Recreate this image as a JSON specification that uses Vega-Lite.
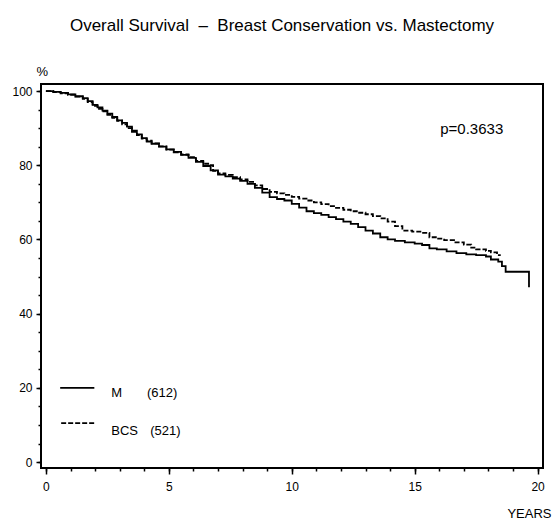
{
  "$schema": "https://vega.github.io/schema/vega-lite/v6.json",
  "width": 502,
  "height": 384,
  "autosize": {"type": "none"},
  "padding": {"left": 41, "top": 84, "right": 11, "bottom": 55},
  "background": "white",
  "config": {
    "font": "Liberation Sans",
    "view": {"stroke": "black", "strokeWidth": 2},
    "axis": {"labelFont": "Liberation Sans", "labelColor": "black", "tickColor": "black", "domain": false, "grid": false, "titleFont": "Liberation Sans", "titleFontWeight": "normal", "titleColor": "black", "tickWidth": 1.5}
  },
  "title": {"text": "Overall Survival\u00a0\u00a0–\u00a0\u00a0Breast Conservation vs. Mastectomy", "fontSize": 17, "fontWeight": "normal", "font": "Liberation Sans", "color": "black", "anchor": "middle", "frame": "group", "offset": 30, "dx": -10},
  "datasets": {
    "curves": [
      {"group": "M", "years": 0, "pct": 100}, {"group": "M", "years": 0.3, "pct": 99.8}, {"group": "M", "years": 0.6, "pct": 99.5}, {"group": "M", "years": 0.9, "pct": 99.1}, {"group": "M", "years": 1.2, "pct": 98.6}, {"group": "M", "years": 1.5, "pct": 98.1}, {"group": "M", "years": 1.7, "pct": 97.3}, {"group": "M", "years": 1.9, "pct": 96.3}, {"group": "M", "years": 2.1, "pct": 95.6}, {"group": "M", "years": 2.3, "pct": 94.7}, {"group": "M", "years": 2.5, "pct": 93.9}, {"group": "M", "years": 2.7, "pct": 93.0}, {"group": "M", "years": 2.9, "pct": 92.1}, {"group": "M", "years": 3.1, "pct": 91.4}, {"group": "M", "years": 3.3, "pct": 90.4}, {"group": "M", "years": 3.5, "pct": 89.3}, {"group": "M", "years": 3.7, "pct": 88.3}, {"group": "M", "years": 3.9, "pct": 87.3}, {"group": "M", "years": 4.1, "pct": 86.4}, {"group": "M", "years": 4.3, "pct": 85.8}, {"group": "M", "years": 4.6, "pct": 85.0}, {"group": "M", "years": 4.9, "pct": 84.3}, {"group": "M", "years": 5.2, "pct": 83.6}, {"group": "M", "years": 5.5, "pct": 82.8}, {"group": "M", "years": 5.8, "pct": 82.0}, {"group": "M", "years": 6.1, "pct": 80.9}, {"group": "M", "years": 6.4, "pct": 79.8}, {"group": "M", "years": 6.7, "pct": 78.6}, {"group": "M", "years": 7.0, "pct": 77.5}, {"group": "M", "years": 7.3, "pct": 77.0}, {"group": "M", "years": 7.6, "pct": 76.4}, {"group": "M", "years": 7.9, "pct": 75.8}, {"group": "M", "years": 8.2, "pct": 75.0}, {"group": "M", "years": 8.5, "pct": 73.9}, {"group": "M", "years": 8.8, "pct": 72.6}, {"group": "M", "years": 9.1, "pct": 71.4}, {"group": "M", "years": 9.4, "pct": 70.9}, {"group": "M", "years": 9.7, "pct": 70.5}, {"group": "M", "years": 10.0, "pct": 69.6}, {"group": "M", "years": 10.3, "pct": 68.6}, {"group": "M", "years": 10.6, "pct": 67.6}, {"group": "M", "years": 10.9, "pct": 67.1}, {"group": "M", "years": 11.2, "pct": 66.6}, {"group": "M", "years": 11.5, "pct": 66.0}, {"group": "M", "years": 11.8, "pct": 65.5}, {"group": "M", "years": 12.1, "pct": 64.8}, {"group": "M", "years": 12.4, "pct": 64.2}, {"group": "M", "years": 12.7, "pct": 63.3}, {"group": "M", "years": 13.0, "pct": 62.4}, {"group": "M", "years": 13.3, "pct": 61.6}, {"group": "M", "years": 13.6, "pct": 60.6}, {"group": "M", "years": 13.9, "pct": 60.0}, {"group": "M", "years": 14.2, "pct": 59.6}, {"group": "M", "years": 14.6, "pct": 59.2}, {"group": "M", "years": 15.0, "pct": 58.9}, {"group": "M", "years": 15.3, "pct": 58.5}, {"group": "M", "years": 15.6, "pct": 57.6}, {"group": "M", "years": 15.9, "pct": 57.3}, {"group": "M", "years": 16.3, "pct": 56.8}, {"group": "M", "years": 16.7, "pct": 56.3}, {"group": "M", "years": 17.1, "pct": 56.0}, {"group": "M", "years": 17.5, "pct": 55.8}, {"group": "M", "years": 17.9, "pct": 55.4}, {"group": "M", "years": 18.1, "pct": 54.6}, {"group": "M", "years": 18.4, "pct": 54.0}, {"group": "M", "years": 18.55, "pct": 52.8}, {"group": "M", "years": 18.7, "pct": 51.3}, {"group": "M", "years": 19.64, "pct": 51.3}, {"group": "M", "years": 19.65, "pct": 47.1},
      {"group": "BCS", "years": 0, "pct": 100}, {"group": "BCS", "years": 0.3, "pct": 99.7}, {"group": "BCS", "years": 0.6, "pct": 99.4}, {"group": "BCS", "years": 0.9, "pct": 99.0}, {"group": "BCS", "years": 1.2, "pct": 98.5}, {"group": "BCS", "years": 1.5, "pct": 97.9}, {"group": "BCS", "years": 1.7, "pct": 97.0}, {"group": "BCS", "years": 1.9, "pct": 96.0}, {"group": "BCS", "years": 2.1, "pct": 95.2}, {"group": "BCS", "years": 2.3, "pct": 94.5}, {"group": "BCS", "years": 2.5, "pct": 93.6}, {"group": "BCS", "years": 2.7, "pct": 92.8}, {"group": "BCS", "years": 2.9, "pct": 92.0}, {"group": "BCS", "years": 3.1, "pct": 91.0}, {"group": "BCS", "years": 3.3, "pct": 90.0}, {"group": "BCS", "years": 3.5, "pct": 89.0}, {"group": "BCS", "years": 3.7, "pct": 88.1}, {"group": "BCS", "years": 3.9, "pct": 87.2}, {"group": "BCS", "years": 4.1, "pct": 86.6}, {"group": "BCS", "years": 4.3, "pct": 85.9}, {"group": "BCS", "years": 4.6, "pct": 85.1}, {"group": "BCS", "years": 4.9, "pct": 84.2}, {"group": "BCS", "years": 5.2, "pct": 83.5}, {"group": "BCS", "years": 5.5, "pct": 82.9}, {"group": "BCS", "years": 5.8, "pct": 82.2}, {"group": "BCS", "years": 6.1, "pct": 81.2}, {"group": "BCS", "years": 6.4, "pct": 80.4}, {"group": "BCS", "years": 6.6, "pct": 80.0}, {"group": "BCS", "years": 6.8, "pct": 78.5}, {"group": "BCS", "years": 7.0, "pct": 77.8}, {"group": "BCS", "years": 7.3, "pct": 77.4}, {"group": "BCS", "years": 7.6, "pct": 76.8}, {"group": "BCS", "years": 7.9, "pct": 76.2}, {"group": "BCS", "years": 8.2, "pct": 75.5}, {"group": "BCS", "years": 8.5, "pct": 74.6}, {"group": "BCS", "years": 8.8, "pct": 73.6}, {"group": "BCS", "years": 9.1, "pct": 72.8}, {"group": "BCS", "years": 9.4, "pct": 72.4}, {"group": "BCS", "years": 9.7, "pct": 72.0}, {"group": "BCS", "years": 10.0, "pct": 71.5}, {"group": "BCS", "years": 10.3, "pct": 71.0}, {"group": "BCS", "years": 10.6, "pct": 70.5}, {"group": "BCS", "years": 10.9, "pct": 70.0}, {"group": "BCS", "years": 11.2, "pct": 69.5}, {"group": "BCS", "years": 11.5, "pct": 69.0}, {"group": "BCS", "years": 11.8, "pct": 68.5}, {"group": "BCS", "years": 12.1, "pct": 68.0}, {"group": "BCS", "years": 12.4, "pct": 67.6}, {"group": "BCS", "years": 12.7, "pct": 67.2}, {"group": "BCS", "years": 13.0, "pct": 66.8}, {"group": "BCS", "years": 13.3, "pct": 66.3}, {"group": "BCS", "years": 13.6, "pct": 65.7}, {"group": "BCS", "years": 13.9, "pct": 64.8}, {"group": "BCS", "years": 14.2, "pct": 63.6}, {"group": "BCS", "years": 14.5, "pct": 62.4}, {"group": "BCS", "years": 14.9, "pct": 62.1}, {"group": "BCS", "years": 15.3, "pct": 61.8}, {"group": "BCS", "years": 15.6, "pct": 60.6}, {"group": "BCS", "years": 15.9, "pct": 60.2}, {"group": "BCS", "years": 16.2, "pct": 59.8}, {"group": "BCS", "years": 16.6, "pct": 59.2}, {"group": "BCS", "years": 17.0, "pct": 58.6}, {"group": "BCS", "years": 17.3, "pct": 57.8}, {"group": "BCS", "years": 17.5, "pct": 57.3}, {"group": "BCS", "years": 17.9, "pct": 56.9}, {"group": "BCS", "years": 18.1, "pct": 56.5}, {"group": "BCS", "years": 18.35, "pct": 55.8}, {"group": "BCS", "years": 18.5, "pct": 55.8}
    ],
    "legend": [
      {"group": "M", "x1": 0.58, "x2": 1.97, "y": 20.0},
      {"group": "BCS", "x1": 0.62, "x2": 1.97, "y": 10.5}
    ],
    "labels": [
      {"x": 2.66, "y": 17.6, "label": "M"},
      {"x": 4.11, "y": 17.6, "label": "(612)"},
      {"x": 2.66, "y": 7.3, "label": "BCS"},
      {"x": 4.24, "y": 7.3, "label": "(521)"}
    ],
    "pvalue": [
      {"x": 16.04, "y": 88.4, "label": "p=0.3633"}
    ]
  },
  "layer": [
    {
      "data": {"name": "curves"},
      "mark": {"type": "line", "interpolate": "step-after", "color": "black", "strokeWidth": 1.8},
      "encoding": {
        "x": {"field": "years", "type": "quantitative", "scale": {"domain": [-0.2, 20.22], "nice": false, "zero": false},
              "axis": {"orient": "bottom", "values": [0, 5, 10, 15, 20], "format": "d", "tickSize": 6, "labelPadding": 7, "labelFontSize": 12, "labelFlush": false,
                       "title": "YEARS", "titleFontSize": 13, "titleX": 510, "titleY": 49, "titleAlign": "right", "titleBaseline": "alphabetic", "titleAnchor": null}},
        "y": {"field": "pct", "type": "quantitative", "scale": {"domain": [-1.6, 101.9], "nice": false, "zero": false},
              "axis": {"orient": "left", "values": [0, 20, 40, 60, 80, 100], "format": "d", "tickSize": 5, "labelPadding": 4, "labelFontSize": 12, "labelFlush": false,
                       "title": "%", "titleFontSize": 13, "titleAngle": 0, "titleX": -5, "titleY": -9, "titleAlign": "left", "titleBaseline": "alphabetic", "titleAnchor": null}},
        "strokeDash": {"field": "group", "type": "nominal", "scale": {"domain": ["M", "BCS"], "range": [[1, 0], [5, 2]]}, "legend": null}
      }
    },
    {
      "data": {"name": "legend"},
      "mark": {"type": "rule", "color": "black", "strokeWidth": 1.8},
      "encoding": {
        "x": {"field": "x1", "type": "quantitative", "axis": {"orient": "bottom", "values": [0,1,2,3,4,5,6,7,8,9,10,11,12,13,14,15,16,17,18,19,20], "tickSize": 3, "labels": false, "title": null}},
        "x2": {"field": "x2"},
        "y": {"field": "y", "type": "quantitative", "axis": {"orient": "left", "values": [0,5,10,15,20,25,30,35,40,45,50,55,60,65,70,75,80,85,90,95,100], "tickSize": 3, "labels": false, "title": null}},
        "strokeDash": {"field": "group", "type": "nominal", "scale": {"domain": ["M", "BCS"], "range": [[1, 0], [5, 2]]}, "legend": null}
      }
    },
    {
      "data": {"name": "labels"},
      "mark": {"type": "text", "align": "left", "baseline": "alphabetic", "fontSize": 13, "color": "black", "font": "Liberation Sans"},
      "encoding": {
        "x": {"field": "x", "type": "quantitative", "axis": null},
        "y": {"field": "y", "type": "quantitative", "axis": null},
        "text": {"field": "label"}
      }
    },
    {
      "data": {"name": "pvalue"},
      "mark": {"type": "text", "align": "left", "baseline": "alphabetic", "fontSize": 15, "color": "black", "font": "Liberation Sans"},
      "encoding": {
        "x": {"field": "x", "type": "quantitative", "axis": null},
        "y": {"field": "y", "type": "quantitative", "axis": null},
        "text": {"field": "label"}
      }
    }
  ],
  "resolve": {"axis": {"x": "independent", "y": "independent"}}
}
